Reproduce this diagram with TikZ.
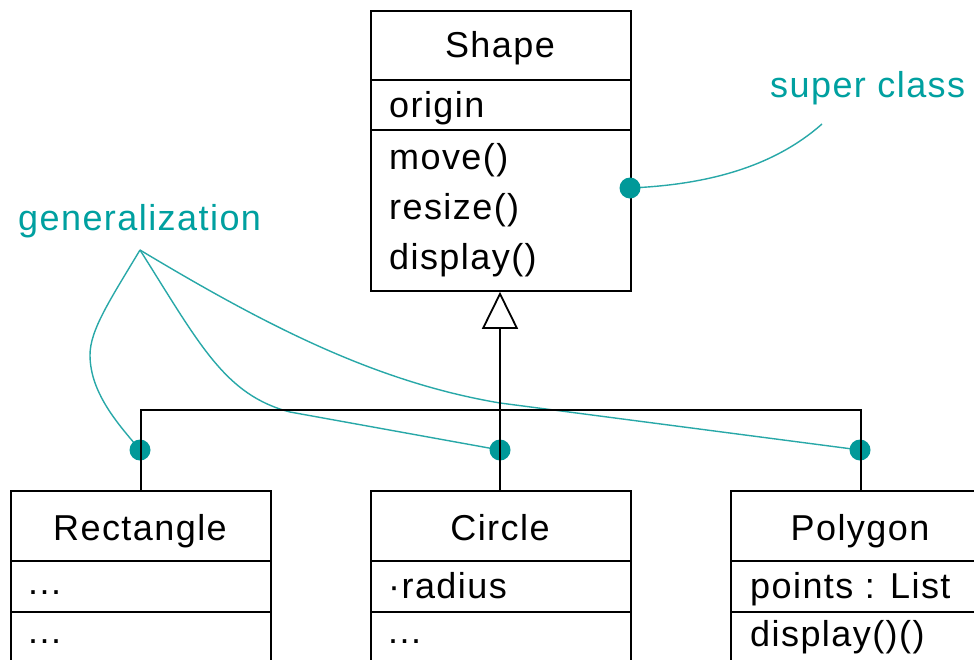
\documentclass[tikz,border=0pt]{standalone}
\usepackage{fontspec}
\setmainfont{Liberation Sans}[LetterSpace=4]
\usetikzlibrary{arrows.meta}
\definecolor{noteteal}{RGB}{0,153,153}
\definecolor{notelink}{RGB}{40,168,168}
\definecolor{notetext}{RGB}{0,160,160}
\begin{document}
\begin{tikzpicture}[x=1pt,y=-1pt,
  classbox/.style={draw, line width=1.8pt, minimum width=260pt, anchor=north west, inner sep=0pt},
  rule/.style={line width=1.8pt},
  member/.style={anchor=base west, inner sep=0pt, font=\fontsize{36}{40}\selectfont},
  title/.style={anchor=base, inner sep=0pt, font=\fontsize{36}{40}\selectfont},
  note/.style={anchor=base west, inner sep=0pt, text=notetext, font=\fontsize{36}{40}\selectfont},
  link/.style={draw=notelink, line width=1.4pt},
  dot/.style={circle, fill=noteteal, inner sep=0pt, minimum size=21pt}
]
\useasboundingbox (0,0) rectangle (974,659);
\clip (0,0) rectangle (974,659);
\fill[white] (0,0) rectangle (974,659);

% super class
\node[classbox, minimum height=280pt] (shape) at (370,10) {};
\draw[rule] (shape.west |- 0,80) -- (shape.east |- 0,80);
\draw[rule] (shape.west |- 0,130) -- (shape.east |- 0,130);
\node[title] (shapename) at (500,57) {Shape};
\node[member] (origin) at (389,117) {origin};
\node[member] (move) at (389,169) {move()};
\node[member] (resize) at (389,219) {resize()};
\node[member] (display) at (389,269) {display()};

% subclasses
\node[classbox, minimum height=250pt] (rect) at (10,490) {};
\node[classbox, minimum height=250pt] (circ) at (370,490) {};
\node[classbox, minimum height=250pt] (poly) at (730,490) {};
\foreach \b in {rect,circ,poly}{
  \draw[rule] (\b.west |- 0,561) -- (\b.east |- 0,561);
  \draw[rule] (\b.west |- 0,612) -- (\b.east |- 0,612);
}
\node[title] (rectname) at (140,540) {Rectangle};
\node[member] (rectattr) at (28,594) {...};
\node[member] (rectops) at (28,643) {...};
\node[title] (circname) at (500,540) {Circle};
\node[member] (circattr) at (388,598) {·radius};
\node[member] (circops) at (388,643) {...};
\node[title] (polyname) at (860,540) {Polygon};
\node[member] (polyattr) at (750,598) {points : List};
\node[member] (polyops) at (750,646) {display()()};

% notes and their anchor points
\node[note] (supernote) at (770,97) {super class};
\node[note] (gennote) at (18,230) {generalization};
\coordinate (superend) at (822,124);
\coordinate (gentip) at (140,250);
\coordinate (spin) at (630,188);
\coordinate (rpin) at (140,450);
\coordinate (cpin) at (500,450);
\coordinate (ppin) at (860,450);

\draw[link] (spin) .. controls (700,185) and (770,170) .. (superend);
\draw[link] (gentip) .. controls (110,300) and (90,330) .. (90,355)
  .. controls (90,395) and (122,428) .. (rpin);
\draw[link] (gentip) .. controls (200,345) and (225,395) .. (290,412) -- (cpin);
\draw[link] (gentip) .. controls (265,325) and (375,382) .. (500,403) -- (ppin);

\node[dot] (sdot) at (spin) {};
\node[dot] (rdot) at (rpin) {};
\node[dot] (cdot) at (cpin) {};
\node[dot] (pdot) at (ppin) {};

% generalization tree
\coordinate (junction) at (500,410);
\draw[rule] (rect.north) |- (junction) -| (poly.north);
\draw[rule] (junction |- circ.north) -- (junction);
\draw[rule, line join=miter, -{Triangle[open, length=37pt, width=36pt, line width=1.8pt]}] (junction) -- (junction |- shape.south);
\end{tikzpicture}
\end{document}
